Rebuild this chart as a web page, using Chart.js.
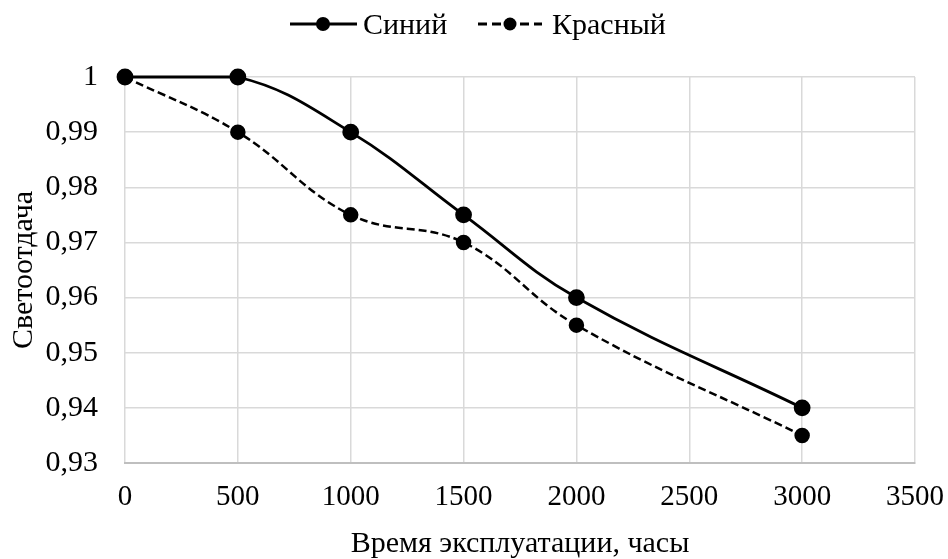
<!DOCTYPE html>
<html><head><meta charset="utf-8">
<script src="https://cdn.jsdelivr.net/npm/chart.js@4"></script>
<style>html,body{margin:0;padding:0;background:#fff}#w{width:948px;height:559px}</style>
</head><body><div id="w"><canvas id="c"></canvas></div>
<script>
const hours = [0, 500, 1000, 1500, 2000, 3000];
const blueValues = [1, 1, 0.99, 0.975, 0.96, 0.94];
const redValues = [1, 0.99, 0.975, 0.97, 0.955, 0.935];
const seriesNames = ['Синий', 'Красный'];
const xTitle = 'Время эксплуатации, часы';
const yTitle = 'Светоотдача';

const FONT = "'Liberation Serif', 'Times New Roman', serif";
const pts = (xs, ys) => xs.map((x, i) => ({x, y: ys[i]}));

const decor = {
  id: 'decor',
  afterDraw(chart) {
    const g = chart.ctx;
    const ds = chart.data.datasets;
    const a = chart.chartArea;
    g.save();
    g.fillStyle = '#000'; g.strokeStyle = '#000';
    const items = [
      {x0: 290, x1: 357, dot: 323, tx: 363, dash: [], r: 7},
      {x0: 478, x1: 542, dot: 510, tx: 552, dash: [9, 5], r: 6.5}
    ];
    items.forEach((it, i) => {
      g.lineWidth = 2.8; g.setLineDash(it.dash);
      g.beginPath(); g.moveTo(it.x0, 24); g.lineTo(it.x1, 24); g.stroke();
      g.setLineDash([]);
      g.beginPath(); g.arc(it.dot, 24, it.r, 0, Math.PI * 2); g.fill();
      g.font = '30px ' + FONT; g.textAlign = 'left'; g.textBaseline = 'alphabetic';
      g.fillText(ds[i].label, it.tx, 34);
    });
    g.font = '30px ' + FONT; g.textAlign = 'center'; g.textBaseline = 'alphabetic';
    g.fillText(xTitle, (a.left + a.right) / 2, 552);
    g.save();
    g.translate(32, (a.top + a.bottom) / 2); g.rotate(-Math.PI / 2);
    g.fillText(yTitle, 0, 0);
    g.restore();
    g.restore();
  }
};

new Chart(document.getElementById('c'), {
  type: 'line',
  data: {
    datasets: [
      {label: seriesNames[0], data: pts(hours, blueValues), borderColor: '#000', backgroundColor: '#000',
       borderWidth: 2.8, pointRadius: 7, pointHoverRadius: 7, tension: 0.4, pointStyle: 'circle', clip: false},
      {label: seriesNames[1], data: pts(hours, redValues), borderColor: '#000', backgroundColor: '#000',
       borderWidth: 2.5, borderDash: [8, 4], pointRadius: 6.5, pointHoverRadius: 6.5, tension: 0.4, pointStyle: 'circle', clip: false}
    ]
  },
  plugins: [decor],
  options: {
    responsive: true, maintainAspectRatio: false, animation: false,
    layout: {padding: {left: 0, right: 33, top: 77, bottom: 0}},
    plugins: {tooltip: {enabled: false}, legend: {display: false}},
    scales: {
      x: {
        type: 'linear', min: 0, max: 3500,
        afterFit: (s) => { s.height = 96; s.paddingLeft = 0; s.paddingRight = 0; },
        ticks: {stepSize: 500, color: '#000', font: {family: FONT, size: 29}, padding: 17, maxRotation: 0,
          callback: (v) => String(v)},
        grid: {color: '#d9d9d9', lineWidth: 1.5, drawTicks: false},
        border: {color: '#bfbfbf', width: 2}
      },
      y: {
        min: 0.93, max: 1,
        afterFit: (s) => { s.width = 125; s.paddingTop = 0; s.paddingBottom = 0; },
        ticks: {stepSize: 0.01, color: '#000', font: {family: FONT, size: 30}, padding: 27,
          callback: (v) => (Math.round(v * 100) / 100).toString().replace('.', ',')},
        grid: {color: '#d9d9d9', lineWidth: 1.5, drawTicks: false},
        border: {display: false}
      }
    }
  }
});
</script></body></html>
